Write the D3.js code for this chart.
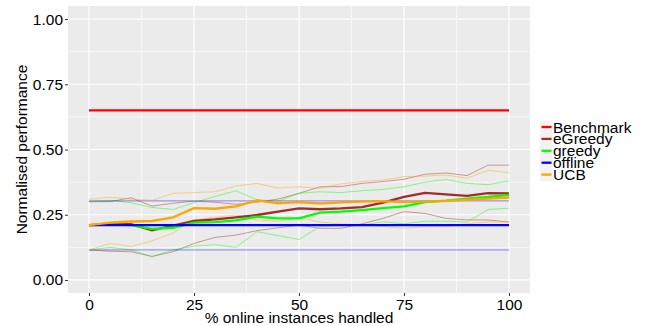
<!DOCTYPE html>
<html>
<head>
<meta charset="utf-8">
<script src="https://cdn.jsdelivr.net/npm/d3@7"></script>
<style>
  body { margin: 0; background: #fff; }
  text { font-family: "Liberation Sans", Arial, sans-serif; }
</style>
</head>
<body>
<svg id="chart" width="646" height="326"></svg>
<script>
// x positions (% online instances handled)
const steps = [0, 5, 10, 15, 20, 25, 30, 35, 40, 45, 50, 55, 60, 65, 70, 75, 80, 85, 90, 95, 100];

const algorithms = ["Benchmark", "eGreedy", "greedy", "offline", "UCB"];
const colours = ["#ff0000", "#a52a2a", "#00ff00", "#0000ff", "#ffa500"];

// mean performance per algorithm
const benchmarkMean = [0.65, 0.65, 0.65, 0.65, 0.65, 0.65, 0.65, 0.65, 0.65, 0.65, 0.65, 0.65, 0.65, 0.65, 0.65, 0.65, 0.65, 0.65, 0.65, 0.65, 0.65];
const eGreedyMean = [0.21, 0.215, 0.214, 0.19, 0.208, 0.226, 0.232, 0.24, 0.249, 0.262, 0.274, 0.271, 0.274, 0.279, 0.296, 0.318, 0.334, 0.328, 0.322, 0.333, 0.332];
const greedyMean = [0.21, 0.212, 0.21, 0.196, 0.2, 0.22, 0.222, 0.228, 0.243, 0.236, 0.236, 0.258, 0.262, 0.268, 0.275, 0.282, 0.298, 0.304, 0.312, 0.318, 0.326];
const offlineMean = [0.21, 0.21, 0.21, 0.21, 0.21, 0.21, 0.21, 0.21, 0.21, 0.21, 0.21, 0.21, 0.21, 0.21, 0.21, 0.21, 0.21, 0.21, 0.21, 0.21, 0.21];
const ucbMean = [0.21, 0.22, 0.224, 0.226, 0.24, 0.275, 0.273, 0.282, 0.305, 0.294, 0.298, 0.293, 0.297, 0.3, 0.302, 0.298, 0.3, 0.303, 0.308, 0.312, 0.316];

// upper / lower spread lines
const eGreedyUpper = [0.30, 0.30, 0.315, 0.283, 0.294, 0.302, 0.298, 0.29, 0.298, 0.31, 0.332, 0.357, 0.358, 0.37, 0.377, 0.386, 0.405, 0.41, 0.40, 0.44, 0.44];
const eGreedyLower = [0.115, 0.11, 0.108, 0.09, 0.108, 0.14, 0.163, 0.172, 0.189, 0.2, 0.21, 0.198, 0.198, 0.215, 0.236, 0.262, 0.255, 0.236, 0.23, 0.23, 0.222];
const greedyUpper = [0.30, 0.305, 0.296, 0.278, 0.27, 0.296, 0.32, 0.342, 0.307, 0.302, 0.332, 0.338, 0.335, 0.342, 0.347, 0.357, 0.375, 0.385, 0.37, 0.365, 0.38];
const greedyLower = [0.115, 0.125, 0.115, 0.09, 0.115, 0.13, 0.135, 0.125, 0.185, 0.17, 0.155, 0.205, 0.208, 0.21, 0.223, 0.215, 0.225, 0.225, 0.222, 0.27, 0.275];
const offlineUpper = [0.303, 0.303, 0.303, 0.303, 0.303, 0.303, 0.303, 0.303, 0.303, 0.303, 0.303, 0.303, 0.303, 0.303, 0.303, 0.303, 0.303, 0.303, 0.303, 0.303, 0.303];
const offlineLower = [0.115, 0.115, 0.115, 0.115, 0.115, 0.115, 0.115, 0.115, 0.115, 0.115, 0.115, 0.115, 0.115, 0.115, 0.115, 0.115, 0.115, 0.115, 0.115, 0.115, 0.115];
const ucbUpper = [0.309, 0.317, 0.31, 0.305, 0.332, 0.335, 0.338, 0.36, 0.37, 0.352, 0.357, 0.351, 0.368, 0.377, 0.383, 0.396, 0.398, 0.402, 0.39, 0.42, 0.411];
const ucbLower = [0.115, 0.14, 0.128, 0.15, 0.18, 0.23, 0.24, 0.249, 0.23, 0.225, 0.24, 0.222, 0.215, 0.21, 0.205, 0.198, 0.204, 0.204, 0.215, 0.223, 0.222];

const xTicks = [0, 25, 50, 75, 100];
const yTicks = [0, 0.25, 0.5, 0.75, 1];

const means = [benchmarkMean, eGreedyMean, greedyMean, offlineMean, ucbMean];
const spreads = [
    [],
    [eGreedyUpper, eGreedyLower],
    [greedyUpper, greedyLower],
    [offlineUpper, offlineLower],
    [ucbUpper, ucbLower],
];

const margin = { top: 6, right: 116, bottom: 33, left: 68 };
const width = 646, height = 326;

const $svg = d3.select("#chart");

const x = d3.scaleLinear().domain([-5, 105]).range([margin.left, width - margin.right]);
const y = d3.scaleLinear().domain([-0.05, 1.05]).range([height - margin.bottom, margin.top]);

// Panel
$svg.append("rect")
    .attr("x", margin.left).attr("y", margin.top)
    .attr("width", x.range()[1] - x.range()[0])
    .attr("height", y.range()[0] - y.range()[1])
    .attr("fill", "#ebebeb");

// Grid: minor then major
const $grid = $svg.append("g");
const xMinor = xTicks.slice(1).map((d, i) => (d + xTicks[i]) / 2);
const yMinor = yTicks.slice(1).map((d, i) => (d + yTicks[i]) / 2);

$grid.selectAll(".xminor").data(xMinor).join("line")
    .attr("class", "xminor")
    .attr("x1", d => x(d)).attr("x2", d => x(d))
    .attr("y1", y.range()[1]).attr("y2", y.range()[0])
    .attr("stroke", "#fff").attr("stroke-width", 0.6);
$grid.selectAll(".yminor").data(yMinor).join("line")
    .attr("class", "yminor")
    .attr("y1", d => y(d)).attr("y2", d => y(d))
    .attr("x1", x.range()[0]).attr("x2", x.range()[1])
    .attr("stroke", "#fff").attr("stroke-width", 0.6);
$grid.selectAll(".xmajor").data(xTicks).join("line")
    .attr("class", "xmajor")
    .attr("x1", d => x(d)).attr("x2", d => x(d))
    .attr("y1", y.range()[1]).attr("y2", y.range()[0])
    .attr("stroke", "#fff").attr("stroke-width", 1.2);
$grid.selectAll(".ymajor").data(yTicks).join("line")
    .attr("class", "ymajor")
    .attr("y1", d => y(d)).attr("y2", d => y(d))
    .attr("x1", x.range()[0]).attr("x2", x.range()[1])
    .attr("stroke", "#fff").attr("stroke-width", 1.2);

// Lines
const line = d3.line()
    .x((d, i) => x(steps[i]))
    .y(d => y(d));

const $view = $svg.append("g");

spreads.forEach((pair, k) => {
    pair.forEach(vals => {
        $view.append("path")
            .attr("d", line(vals))
            .attr("fill", "none")
            .attr("stroke", colours[k])
            .attr("stroke-opacity", 0.45)
            .attr("stroke-width", 1);
    });
});

means.forEach((vals, k) => {
    $view.append("path")
        .attr("d", line(vals))
        .attr("fill", "none")
        .attr("stroke", colours[k])
        .attr("stroke-width", 2.3);
});

// Axes
const xAxis = d3.axisBottom(x).tickValues(xTicks).tickFormat(d3.format("d")).tickSize(3).tickPadding(3);
const yAxis = d3.axisLeft(y).tickValues(yTicks).tickFormat(d3.format(".2f")).tickSize(3).tickPadding(2);

const $xAxis = $svg.append("g")
    .attr("transform", `translate(0,${y.range()[0]})`)
    .call(xAxis);
const $yAxis = $svg.append("g")
    .attr("transform", `translate(${margin.left},0)`)
    .call(yAxis);

[$xAxis, $yAxis].forEach($a => {
    $a.select(".domain").remove();
    $a.selectAll(".tick line").attr("stroke", "#333");
    $a.selectAll(".tick text")
        .attr("fill", "#000")
        .style("font-size", "15.5px")
        .style("font-family", "Liberation Sans, Arial, sans-serif");
});

// Axis titles
$svg.append("text")
    .attr("x", (x.range()[0] + x.range()[1]) / 2)
    .attr("y", 323)
    .attr("text-anchor", "middle")
    .style("font-size", "15.5px")
    .text("% online instances handled");

$svg.append("text")
    .attr("transform", `translate(27,${(y.range()[0] + y.range()[1]) / 2}) rotate(-90)`)
    .attr("text-anchor", "middle")
    .style("font-size", "15.5px")
    .text("Normalised performance");

// Legend (rows packed tightly, as in the original)
const $legend = $svg.append("g").attr("transform", "translate(540,121)");
const rowH = 11.9;

$legend.append("rect")
    .attr("x", 0).attr("y", 0)
    .attr("width", 12).attr("height", rowH * algorithms.length + 1)
    .attr("fill", "#f2f2f2");

const $rows = $legend.selectAll("g.row").data(algorithms).join("g")
    .attr("class", "row")
    .attr("transform", (d, i) => `translate(0,${i * rowH + 6})`);

$rows.append("line")
    .attr("x1", 1.5).attr("x2", 11.5)
    .attr("y1", 0).attr("y2", 0)
    .attr("stroke", (d, i) => colours[i])
    .attr("stroke-width", 2.3);

$rows.append("text")
    .attr("x", 13)
    .attr("y", 5.5)
    .style("font-size", "15.5px")
    .text(d => d);
</script>
</body>
</html>
